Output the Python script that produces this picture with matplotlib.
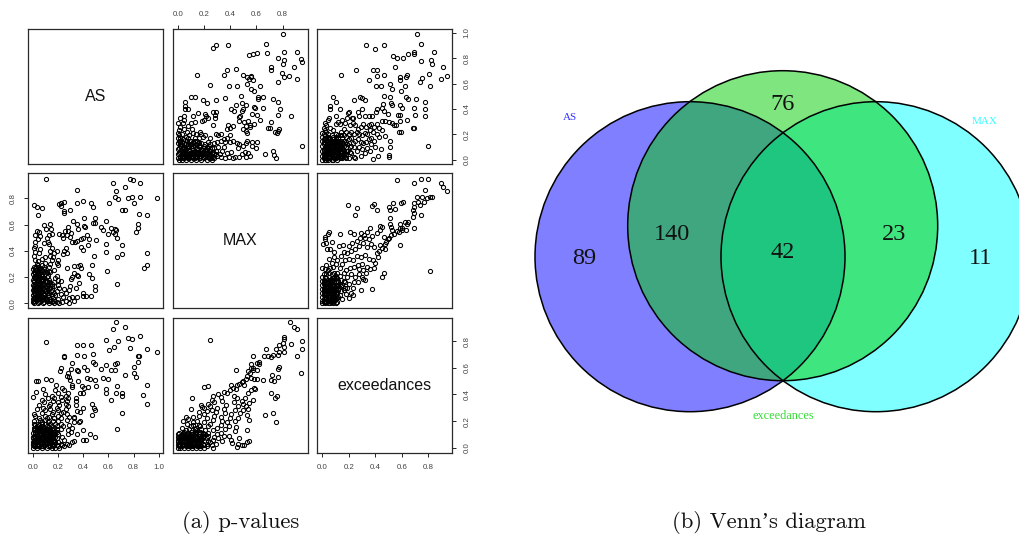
import matplotlib
matplotlib.use('Agg')
import matplotlib.pyplot as plt
import matplotlib.patches as patches

# (MAX, AS)
max_as = [
    (.805,.987),(.292,.905),(.272,.879),(.386,.905),(.673,.908),(.678,.839),(.541,.821),(.571,.834),(.602,.837),
    (.808,.85),(.914,.85),(.767,.805),(.808,.784),(.8,.753),(.94,.797),(.95,.771),(.884,.732),(.711,.729),(.711,.705),
    (.15,.666),(.356,.666),(.378,.705),(.444,.711),(.5,.668),(.53,.655),(.556,.663),(.563,.65),(.546,.634),(.577,.624),
    (.53,.6),(.795,.679),(.81,.65),(.853,.663),(.914,.637),(.762,.608),(.244,.587),(.389,.584),(.452,.582),(.561,.555),
    (.584,.542),(.625,.584),(.615,.495),(.648,.497),(.615,.476),(.104,.495),(.13,.495),(.056,.458),(.058,.426),(.058,.4),
    (.076,.395),(.19,.466),(.224,.447),(.29,.471),(.363,.487),(.48,.503),(.49,.447),(.52,.432),(.442,.434),(.404,.4),
    (.429,.384),(.495,.4),(.493,.384),(.579,.413),(.589,.405),(.653,.408),(.731,.479),(.767,.458),(.78,.397),(.764,.353),
    (.861,.347),(.569,.358),(.605,.35),(.627,.316),(.475,.347),(.465,.334),(.465,.308),(.157,.368),(.206,.361),(.213,.347),
    (.272,.379),(.29,.374),(.284,.355),(.287,.329),(.229,.324),(.2,.313),(.185,.303),(.117,.342),(.046,.347),(.015,.326),
    (.05,.313),(.041,.289),(.003,.287),(.104,.287),(.132,.297),(.076,.266),(.107,.245),(.272,.271),(.386,.271),(.422,.263),
    (.399,.25),(.376,.239),(.508,.295),(.538,.303),(.551,.276),(.579,.282),(.52,.268),(.495,.242),(.523,.229),(.551,.255),
    (.526,.208),(.686,.25),(.701,.25),(.711,.295),(.744,.221),(.77,.245),(.762,.226),(.759,.21),(.95,.105),(.564,.142),
    (.602,.137),(.53,.15),(.569,.105),(.594,.089),(.726,.071),(.67,.042),(.736,.037),(.752,.013),
    (.02,.26),(.01,.23),(.0,.21),(.03,.2),(.05,.24),(.07,.22),(.09,.19),(.12,.21),(.14,.2),(.17,.22),(.18,.2),(.19,.18),
    (.16,.17),(.21,.19),(.25,.17),(.29,.2),(.31,.19),(.33,.2),(.35,.16),(.38,.17),(.4,.19),(.42,.15),(.45,.13),(.47,.12),
    (.4,.14),(.36,.14),(.33,.15),(.3,.14),(.28,.13),(.5,.11),(.52,.13),(.46,.09),(.51,.06),(.54,.05),(.55,.03),(.49,.04),
    (.47,.02),(.52,.02),(.44,.02),(.42,.01),(.39,.02),(.36,.01),(.38,.05),(.41,.06),(.34,.07),(.32,.04),(.3,.03),(.35,.1),
    # dense corner
    (.0,.01),(.01,.0),(.02,.02),(.03,.0),(.04,.01),(.05,.03),(.06,.0),(.07,.02),(.08,.01),(.09,.03),(.1,.0),(.11,.02),
    (.12,.01),(.13,.03),(.14,.0),(.15,.02),(.16,.01),(.17,.03),(.18,.0),(.19,.02),(.2,.01),(.21,.03),(.22,.0),(.23,.02),
    (.24,.01),(.25,.03),(.26,.0),(.27,.02),(.28,.01),(.29,.04),(.0,.04),(.01,.05),(.02,.06),(.03,.04),(.04,.06),(.05,.07),
    (.06,.05),(.07,.06),(.08,.04),(.09,.07),(.1,.05),(.11,.06),(.12,.04),(.13,.07),(.14,.05),(.15,.06),(.16,.04),(.17,.07),
    (.18,.05),(.19,.06),(.2,.04),(.21,.07),(.22,.05),(.23,.06),(.24,.04),(.25,.07),(.26,.05),(.27,.06),(.0,.08),(.01,.09),
    (.02,.11),(.03,.08),(.04,.1),(.05,.09),(.06,.12),(.07,.09),(.08,.11),(.09,.1),(.1,.12),(.11,.09),(.12,.11),(.13,.1),
    (.14,.12),(.15,.09),(.16,.11),(.17,.1),(.18,.13),(.19,.09),(.2,.11),(.21,.12),(.22,.1),(.24,.11),(.26,.09),(.0,.13),
    (.01,.15),(.02,.17),(.03,.14),(.04,.16),(.05,.13),(.06,.18),(.07,.15),(.08,.17),(.1,.15),(.12,.14),(.13,.17),(.15,.15),
    (.0,.17),(.01,.19),(.02,.14),(.03,.02),(.05,.01),(.07,.04),(.09,.01),(.11,.04),(.13,.01),(.15,.04),(.17,.01),(.19,.04),
    (.015,.012),(.035,.025),(.055,.045),(.075,.015),(.095,.055),(.115,.078),(.135,.022),(.155,.048),(.175,.083),(.195,.017),
    (.215,.052),(.235,.09),(.255,.016),(.275,.045),(.295,.07),(.025,.072),(.045,.085),(.065,.032),(.085,.075),(.105,.028),
    (.125,.06),(.145,.085),(.165,.13),(.185,.075),(.205,.028),(.225,.075),(.245,.125),(.265,.03),(.31,.1),(.33,.02),
    (.015,.125),(.035,.115),(.055,.155),(.075,.125),(.095,.145),(.115,.13),(.135,.15),(.155,.13),(.235,.14),(.275,.09),
]

# (exceedances, AS)
exc_as = [
    (.717,.987),(.33,.905),(.395,.876),(.468,.905),(.742,.908),(.533,.818),(.563,.8),(.606,.803),(.647,.834),(.689,.845),
    (.69,.835),(.84,.85),(.747,.774),(.818,.787),(.828,.755),(.546,.729),(.911,.732),(.257,.705),(.385,.708),(.413,.705),
    (.138,.666),(.413,.663),(.463,.668),(.584,.655),(.584,.624),(.63,.655),(.639,.668),(.755,.647),(.803,.676),(.893,.637),
    (.943,.663),(.737,.608),(.355,.624),(.408,.584),(.443,.582),(.513,.597),(.526,.553),(.591,.542),(.624,.584),(.463,.503),
    (.508,.495),(.629,.492),(.644,.476),(.704,.479),(.813,.584),(.772,.458),(.08,.492),(.103,.455),(.055,.426),(.06,.395),
    (.131,.397),(.242,.466),(.287,.492),(.3,.486),(.325,.471),(.458,.439),(.523,.432),(.52,.45),(.584,.432),(.604,.405),
    (.689,.408),(.775,.397),(.772,.347),(.697,.353),(.574,.355),(.584,.352),(.41,.397),(.408,.374),(.45,.408),(.463,.387),
    (.498,.361),(.106,.347),(.375,.345),(.35,.345),(.32,.34),(.3,.397),(.274,.347),(.269,.374),(.191,.366),(.2,.374),
    (.226,.329),(.23,.324),(.453,.308),(.47,.308),(.506,.295),(.528,.287),(.54,.27),(.558,.276),(.589,.303),(.639,.313),
    (.576,.216),(.596,.221),(.684,.247),(.69,.247),(.47,.182),(.508,.145),(.513,.103),(.44,.084),(.5,.039),(.503,.024),
    (.418,.026),(.382,.005),(.797,.105),
    (.05,.33),(.04,.31),(.02,.29),(.03,.27),(.01,.25),(.02,.23),(.0,.21),(.04,.2),(.06,.25),(.08,.23),(.1,.28),(.12,.3),
    (.13,.28),(.15,.31),(.17,.29),(.19,.33),(.21,.27),(.23,.29),(.25,.27),(.27,.24),(.29,.26),(.31,.28),(.33,.26),(.35,.27),
    (.37,.28),(.39,.26),(.41,.28),(.43,.25),(.45,.23),(.36,.23),(.38,.22),(.34,.2),(.32,.21),(.3,.19),(.28,.2),(.26,.22),
    (.24,.2),(.22,.22),(.2,.2),(.18,.22),(.16,.24),(.14,.22),(.12,.19),(.1,.2),(.08,.18),(.41,.2),(.43,.18),(.37,.17),
    (.35,.16),(.39,.15),(.33,.14),(.31,.13),(.29,.14),(.27,.16),(.25,.15),(.23,.13),(.4,.1),(.37,.12),(.34,.09),(.3,.08),
    (.28,.1),(.26,.07),(.36,.07),(.32,.05),(.29,.03),(.24,.02),(.22,.05),(.25,.01),(.2,.01),(.17,.02),(.19,.07),(.21,.1),
    # dense corner
    (.0,.0),(.01,.01),(.02,.0),(.03,.02),(.04,.0),(.05,.01),(.06,.03),(.07,.0),(.08,.02),(.09,.01),(.1,.03),(.11,.0),
    (.12,.02),(.13,.01),(.14,.03),(.15,.01),(.16,.03),(.18,.01),(.0,.03),(.01,.04),(.02,.05),(.03,.04),(.04,.06),(.05,.04),
    (.06,.06),(.07,.05),(.08,.07),(.09,.04),(.1,.06),(.11,.05),(.12,.07),(.13,.05),(.14,.07),(.15,.05),(.16,.07),(.17,.05),
    (.18,.04),(.0,.07),(.01,.08),(.02,.09),(.03,.07),(.04,.1),(.05,.08),(.06,.09),(.07,.11),(.08,.09),(.09,.1),(.1,.08),
    (.11,.1),(.12,.12),(.13,.09),(.14,.11),(.15,.09),(.16,.11),(.18,.1),(.2,.13),(.22,.11),(.24,.1),(.0,.11),(.01,.12),
    (.02,.13),(.03,.11),(.04,.14),(.05,.12),(.06,.13),(.07,.15),(.08,.13),(.09,.14),(.1,.16),(.11,.14),(.12,.15),(.13,.13),
    (.14,.15),(.15,.17),(.16,.15),(.18,.14),(.2,.16),(.22,.17),(.0,.15),(.01,.16),(.02,.17),(.03,.15),(.04,.18),(.05,.16),
    (.06,.17),(.07,.19),(.08,.16),(.1,.18),(.12,.17),(.14,.19),(.16,.19),(.18,.18),(.0,.18),(.01,.2),(.02,.19),(.03,.22),
    (.01,.02),(.03,.0),(.05,.02),(.07,.02),(.09,.03),(.11,.02),(.13,.03),(.15,.03),(.02,.03),(.04,.02),(.06,.01),(.08,.0),
    (.015,.015),(.025,.035),(.035,.055),(.045,.075),(.055,.025),(.065,.045),(.075,.085),(.085,.035),(.095,.065),(.105,.015),
    (.115,.035),(.125,.09),(.135,.06),(.145,.02),(.155,.08),(.165,.035),(.175,.07),(.015,.065),(.025,.1),(.035,.125),
    (.045,.045),(.055,.105),(.065,.075),(.075,.13),(.085,.11),(.095,.12),(.105,.14),(.115,.075),(.135,.12),(.155,.13),
    (.015,.14),(.025,.155),(.035,.095),(.045,.165),(.065,.15),(.085,.145),(.105,.105),(.125,.135),(.19,.12),(.21,.06),
]

# (exceedances, MAX)
exc_max = [
    (.561,.942),(.689,.914),(.745,.95),(.8,.947),(.893,.914),(.908,.886),(.943,.856),(.777,.861),(.717,.808),(.755,.81),
    (.719,.77),(.694,.767),(.79,.8),(.815,.808),(.83,.808),(.77,.77),(.74,.749),(.694,.731),(.68,.711),(.692,.691),
    (.687,.66),(.742,.673),(.196,.752),(.262,.729),(.244,.67),(.377,.742),(.39,.759),(.41,.714),(.503,.737),(.508,.711),
    (.531,.767),(.546,.716),(.594,.764),(.609,.77),(.508,.648),(.513,.607),(.516,.58),(.523,.559),(.584,.602),(.584,.576),
    (.626,.622),(.644,.622),(.639,.602),(.601,.571),(.629,.559),(.689,.577),(.438,.592),(.45,.584),(.433,.559),(.357,.571),
    (.337,.541),(.312,.521),(.292,.538),(.211,.543),(.242,.528),(.131,.531),(.053,.546),(.043,.528),(.023,.508),(.018,.49),
    (.005,.45),(.03,.462),(.07,.465),(.035,.411),(.06,.41),(.09,.356),(.123,.437),(.153,.444),(.199,.437),(.225,.457),
    (.262,.475),(.287,.5),(.325,.495),(.35,.49),(.375,.516),(.413,.533),(.468,.508),(.493,.49),(.475,.452),(.438,.444),
    (.584,.444),(.813,.246),(.463,.231),(.453,.203),(.372,.107),(.289,.104),(.306,.185),(.277,.223),(.231,.063),(.2,.04),
    (.218,.075),(.52,.52),(.54,.53),(.56,.55),(.58,.54),(.6,.56),(.5,.5),(.48,.47),(.45,.42),(.47,.41),(.43,.4),
    (.41,.38),(.39,.43),(.37,.45),(.34,.43),(.31,.46),(.28,.44),(.25,.41),(.22,.4),(.19,.38),(.16,.39),(.14,.36),(.11,.33),
    (.09,.39),(.07,.31),(.05,.34),(.03,.29),(.02,.26),(.0,.27),(.04,.25),(.06,.27),(.08,.28),(.1,.3),(.13,.27),(.15,.3),
    (.17,.33),(.2,.34),(.23,.33),(.26,.36),(.29,.35),(.32,.37),(.35,.34),(.38,.33),(.4,.31),(.42,.35),(.3,.3),(.27,.29),
    (.24,.28),(.21,.27),(.18,.25),(.16,.23),(.19,.2),(.22,.22),(.25,.2),(.28,.26),(.31,.25),(.34,.28),(.36,.26),(.39,.27),
    (.33,.23),(.3,.2),(.32,.18),(.27,.16),(.24,.16),(.2,.15),(.17,.16),(.13,.21),(.11,.23),(.09,.2),(.12,.17),(.14,.13),
    (.16,.1),(.18,.07),(.23,.12),(.13,.06),(.15,.03),(.12,.05),
    # dense corner
    (.0,.0),(.01,.01),(.02,.0),(.03,.01),(.04,.0),(.05,.02),(.06,.0),(.07,.01),(.08,.0),(.09,.02),(.1,.0),(.11,.01),
    (.0,.02),(.01,.03),(.02,.02),(.03,.04),(.04,.03),(.05,.05),(.06,.03),(.07,.04),(.08,.03),(.09,.05),(.1,.03),(.11,.04),
    (.0,.05),(.01,.06),(.02,.05),(.03,.07),(.04,.06),(.05,.08),(.06,.06),(.07,.07),(.08,.06),(.09,.08),(.1,.07),(.11,.08),
    (.0,.08),(.01,.09),(.02,.08),(.03,.1),(.04,.09),(.05,.11),(.06,.09),(.07,.1),(.08,.09),(.09,.11),(.1,.1),(.12,.1),
    (.0,.11),(.01,.12),(.02,.11),(.03,.13),(.04,.12),(.05,.14),(.06,.12),(.07,.13),(.08,.12),(.09,.14),(.1,.13),(.12,.13),
    (.0,.14),(.01,.15),(.02,.14),(.03,.16),(.04,.15),(.05,.17),(.06,.15),(.07,.16),(.08,.15),(.09,.17),(.1,.16),(.12,.16),
    (.0,.17),(.01,.18),(.02,.17),(.03,.19),(.04,.18),(.05,.2),(.06,.18),(.07,.19),(.08,.18),(.1,.19),(.0,.2),(.02,.2),
    (.03,.22),(.01,.22),(.05,.23),(.07,.22),(.09,.23),(.11,.19),(.13,.15),(.14,.18),(.15,.14),(.16,.17),(.17,.12),(.19,.12),
    (.015,.015),(.025,.035),(.035,.025),(.045,.045),(.055,.035),(.065,.02),(.075,.055),(.085,.025),(.095,.035),(.105,.055),
    (.015,.075),(.025,.065),(.035,.085),(.045,.075),(.055,.065),(.065,.085),(.075,.075),(.085,.105),(.095,.09),(.105,.115),
    (.015,.105),(.025,.125),(.035,.115),(.045,.105),(.055,.125),(.065,.11),(.075,.145),(.085,.135),(.095,.125),(.115,.14),
    (.015,.165),(.025,.155),(.035,.145),(.045,.165),(.055,.16),(.065,.175),(.075,.17),(.085,.195),(.105,.21),(.14,.09),
]

var_names = ['AS', 'MAX', 'exceedances']
as_ticks = [0.0, 0.2, 0.4, 0.6, 0.8, 1.0]
max_ticks = [0.0, 0.2, 0.4, 0.6, 0.8]
exc_ticks = [0.0, 0.2, 0.4, 0.6, 0.8]

venn_counts = [89, 140, 76, 42, 23, 11]
venn_labels = ['AS', 'MAX', 'exceedances']
captions = ['(a) p-values', "(b) Venn\u2019s diagram"]

W, H = 1020, 535
fig = plt.figure(figsize=(W / 100, H / 100), dpi=100)
plt.rcParams['font.family'] = ['Liberation Sans', 'DejaVu Sans']

col_left = [27.7, 172.7, 317.3]
row_top = [29, 173.3, 318]
size = 135
x_lims = [(-0.04, 1.03), (-0.038, 0.992), (-0.0376, 0.98)]
y_lims = [(-0.035, 1.03), (-0.038, 0.99), (-0.04, 0.975)]
GREY = '#444444'


def panel(row, col):
    ax = fig.add_axes([col_left[col] / W, 1 - (row_top[row] + size) / H, size / W, size / H])
    ax.set_xlim(x_lims[col])
    ax.set_ylim(y_lims[row])
    ax.set_xticks([])
    ax.set_yticks([])
    for s in ax.spines.values():
        s.set_linewidth(0.9)
        s.set_color('#2a2a2a')
    return ax


def points(ax, xs, ys):
    ax.plot(xs, ys, ls='none', marker='o', mfc='none', mec='black', ms=3.0, mew=0.75)


def split(pairs):
    return [p[0] for p in pairs], [p[1] for p in pairs]


max_a, as_a = split(max_as)
exc_b, as_b = split(exc_as)
exc_c, max_c = split(exc_max)

# 3x3 pairs layout, mirrored panels share the same pairs
grid = {}
for r in range(3):
    for c in range(3):
        grid[r, c] = panel(r, c)

points(grid[0, 1], max_a, as_a)
points(grid[1, 0], as_a, max_a)
points(grid[0, 2], exc_b, as_b)
points(grid[2, 0], as_b, exc_b)
points(grid[1, 2], exc_c, max_c)
points(grid[2, 1], max_c, exc_c)

for i, name in enumerate(var_names):
    grid[i, i].text(0.5, 0.5, name, transform=grid[i, i].transAxes, ha='center', va='center',
                    fontsize=11.5, color='#111111')


def fmt(ticks):
    return ['%.1f' % t for t in ticks]


tick_kw = dict(length=3, width=0.7, color='#222222', labelsize=5.7, labelcolor=GREY, pad=5)

ax = grid[0, 1]
ax.xaxis.tick_top()
ax.set_xticks(max_ticks, fmt(max_ticks))
ax.tick_params(axis='x', **tick_kw)

ax = grid[2, 0]
ax.set_xticks(as_ticks, fmt(as_ticks))
ax.tick_params(axis='x', **tick_kw)

ax = grid[2, 2]
ax.set_xticks(exc_ticks, fmt(exc_ticks))
ax.tick_params(axis='x', **tick_kw)
ax.yaxis.tick_right()
ax.set_yticks(exc_ticks, fmt(exc_ticks), rotation=90, va='center')
ax.tick_params(axis='y', **tick_kw)

ax = grid[0, 2]
ax.yaxis.tick_right()
ax.set_yticks(as_ticks, fmt(as_ticks), rotation=90, va='center')
ax.tick_params(axis='y', **tick_kw)

ax = grid[1, 0]
ax.set_yticks(max_ticks, fmt(max_ticks), rotation=90, va='center')
ax.tick_params(axis='y', **tick_kw)

# Venn diagram, whole figure as canvas in pixels
bg = fig.add_axes([0, 0, 1, 1], zorder=-1)
bg.set_xlim(0, W)
bg.set_ylim(H, 0)
bg.axis('off')

circles = [((690, 256.7), '#0000ff'), ((876, 256.7), '#00ffff'), ((782.7, 225.7), '#00cd00')]
for xy, c in circles:
    bg.add_patch(patches.Circle(xy, 155, facecolor=c, alpha=0.5, edgecolor='none'))
for xy, c in circles:
    bg.add_patch(patches.Circle(xy, 155, facecolor='none', edgecolor='black', linewidth=1.1))

count_pos = [(584, 259), (672, 234), (783, 104), (783, 253), (894, 234), (981, 259)]
for n, (x, y) in zip(venn_counts, count_pos):
    bg.text(x, y, str(n), ha='center', va='center', fontsize=17.5, family=['Liberation Serif'], color='#111111')

label_pos = [(570, 118), (985, 122), (783, 416)]
label_col = ['#3333ff', '#33ffff', '#33dd33']
label_size = [8, 8, 8.8]
for s, (x, y), c, fs in zip(venn_labels, label_pos, label_col, label_size):
    bg.text(x, y, s, ha='center', va='center', fontsize=fs, family=['Liberation Serif'], color=c)

for s, x in zip(captions, [241, 769]):
    bg.text(x, 522, s, ha='center', va='center', fontsize=16.3, family=['cmr10', 'Liberation Serif'], color='#111111')

fig.savefig('out.png', dpi=100)
